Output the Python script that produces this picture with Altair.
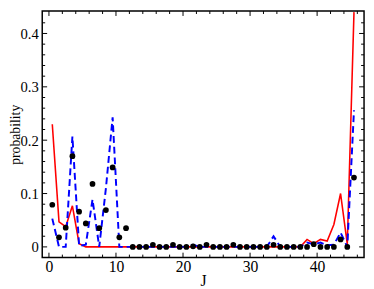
import altair as alt
import pandas as pd

J = [0.5 + i for i in range(46)]

dots = [0.079, 0.018, 0.036, 0.170, 0.066, 0.044, 0.118, 0.035, 0.069, 0.149,
        0.018, 0.035, 0.0, 0.0, 0.0, 0.004, 0.0, 0.0, 0.004, 0.0,
        0.0, 0.001, 0.0, 0.004, 0.0, 0.0, 0.0, 0.004, 0.0, 0.0,
        0.0, 0.0, 0.0, 0.004, 0.0, 0.0, 0.0, 0.0, 0.0, 0.005,
        0.0, 0.0, 0.0, 0.014, 0.0, 0.130]

blue = [0.053, 0.0, 0.0, 0.207, 0.002, 0.004, 0.089, 0.0, 0.110, 0.243,
        0.0, 0.0, 0.0, 0.0, 0.0, 0.0, 0.0, 0.0, 0.0, 0.0,
        0.0, 0.004, 0.0, 0.0, 0.0, 0.0, 0.0, 0.0, 0.0, 0.0,
        0.0, 0.0, 0.0, 0.020, 0.0, 0.0, 0.0, 0.0, 0.008, 0.005,
        0.008, 0.003, 0.004, 0.027, 0.0, 0.256]

red = [0.230, 0.047, 0.038, 0.077, 0.006, 0.0, 0.0, 0.0, 0.0, 0.0,
       0.0, 0.0, 0.0, 0.0, 0.0, 0.0, 0.0, 0.0, 0.0, 0.0,
       0.0, 0.0, 0.0, 0.0, 0.0, 0.0, 0.0, 0.0, 0.0, 0.0,
       0.0, 0.0, 0.0, 0.0, 0.0, 0.0, 0.0, 0.0, 0.014, 0.006,
       0.014, 0.011, 0.042, 0.100, 0.005, 0.440]

x_major = [0, 10, 20, 30, 40]
x_minor = [v for v in range(2, 47, 2) if v % 10 != 0]
y_major = [0.0, 0.1, 0.2, 0.3, 0.4]
y_minor = [0.02, 0.04, 0.06, 0.08, 0.12, 0.14, 0.16, 0.18, 0.22, 0.24, 0.26,
           0.28, 0.32, 0.34, 0.36, 0.38, 0.42]

W, H = 329, 252
FONT = "Liberation Serif"
XD = [-1, 47]
YD = [-0.02, 0.442]

df = pd.DataFrame({"J": J, "dots": dots, "blue": blue, "red": red})

xs = alt.Scale(domain=XD, nice=False, zero=False)
ys = alt.Scale(domain=YD, nice=False, zero=False)

xax = alt.Axis(values=x_major, ticks=False, domain=False, grid=False,
               labelFont=FONT, labelFontSize=16, labelPadding=1,
               title="J", titleFont=FONT, titleFontSize=16,
               titleFontWeight="normal", titlePadding=-1, labelColor="black",
               titleColor="black")
yax = alt.Axis(values=y_major, format=".1~f", ticks=False, domain=False,
               grid=False, labelFont=FONT, labelFontSize=15, labelPadding=4,
               title="probability", titleFont=FONT, titleFontSize=14,
               titleFontWeight="normal", titleX=-23, titleBaseline="alphabetic",
               labelColor="black", titleColor="black")

base = alt.Chart(df)
red_line = base.mark_line(color="#ff0000", strokeWidth=1.6, clip=True).encode(
    x=alt.X("J:Q", scale=xs, axis=xax),
    y=alt.Y("red:Q", scale=ys, axis=yax))
blue_line = base.mark_line(color="#0000ff", strokeWidth=2, strokeDash=[7, 4], clip=True).encode(
    x=alt.X("J:Q", scale=xs, axis=xax), y=alt.Y("blue:Q", scale=ys, axis=yax))
pts = base.mark_point(filled=True, color="black", size=34, opacity=1).encode(
    x=alt.X("J:Q", scale=xs, axis=xax), y=alt.Y("dots:Q", scale=ys, axis=yax))


def xticks(bottom, length, vals):
    d = pd.DataFrame({"v": vals})
    y0 = H if bottom else 0
    y1 = H - length if bottom else length
    return alt.Chart(d).mark_rule(color="black", strokeWidth=1).encode(
        x=alt.X("v:Q", scale=xs, axis=xax), y=alt.value(y0), y2=alt.value(y1))


def yticks(left, length, vals):
    d = pd.DataFrame({"v": vals})
    x0 = 0 if left else W
    x1 = length if left else W - length
    return alt.Chart(d).mark_rule(color="black", strokeWidth=1).encode(
        y=alt.Y("v:Q", scale=ys, axis=yax), x=alt.value(x0), x2=alt.value(x1))


ticks = [
    xticks(True, 5, x_major), xticks(True, 3, x_minor),
    xticks(False, 5, x_major), xticks(False, 3, x_minor),
    yticks(True, 5, y_major), yticks(True, 3, y_minor),
    yticks(False, 5, y_major), yticks(False, 3, y_minor),
]

chart = alt.layer(red_line, blue_line, pts, *ticks).properties(
    width=W, height=H,
    autosize=alt.AutoSizeParams(type="none"),
    padding={"left": 35, "top": 0, "right": 2, "bottom": 29},
).configure(
    font=FONT,
    style={"guide-label": {"font": FONT}, "guide-title": {"font": FONT}},
).configure_view(stroke="black", strokeWidth=1.5).configure_axis(
    labelFont=FONT, titleFont=FONT)

chart.save("out.html", embed_options={"renderer": "svg", "actions": False})
